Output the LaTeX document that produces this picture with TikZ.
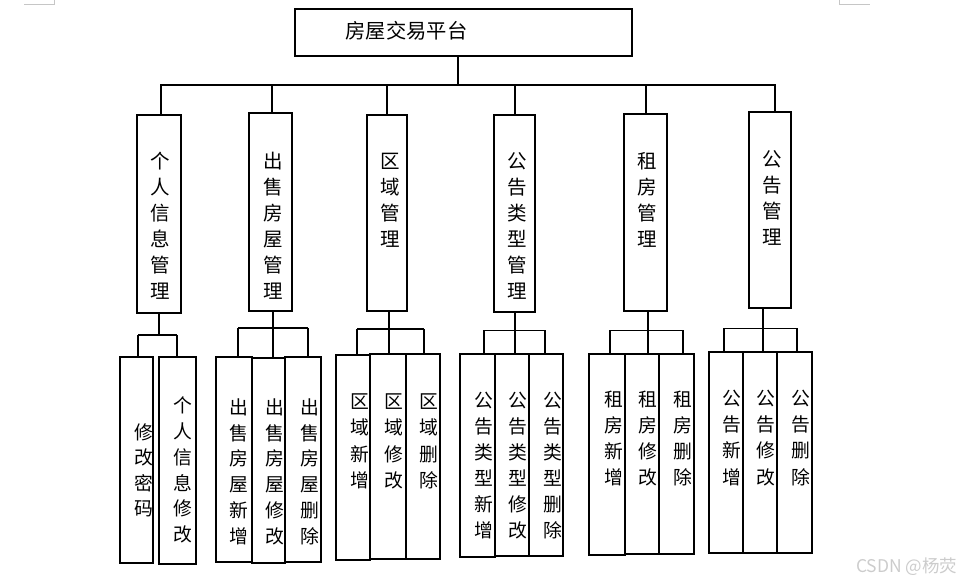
\documentclass[tikz,border=0pt]{standalone}
\usepackage{fontspec}
\setmainfont{Noto Sans CJK SC}
\newcommand\mybox[5]{\node[box,minimum width={#4pt-#2pt},minimum height={#5pt-#3pt}] (#1) at ({(#2+#4)/2},{(#3+#5)/2}) {};}
\begin{document}
\begin{tikzpicture}[x=1pt,y=-1pt,line width=1.1pt,
  box/.style={draw,inner sep=0pt,outer sep=0pt},
  lab2/.style={font=\fontsize{19.5}{26}\selectfont,align=center,anchor=north,inner sep=0pt},
  lab3/.style={font=\fontsize{18.8}{25.8}\selectfont,align=center,anchor=north,inner sep=0pt}]
\useasboundingbox (0,0) rectangle (962,585);
% page corner marks
\draw[gray!45,line width=0.6pt] (24,4.7) -- (54,4.7) -- (54,0);
\draw[gray!45,line width=0.6pt] (839,0) -- (839,4.7) -- (870,4.7);
% root
\mybox{root}{295}{9}{632}{56}
\node[font=\fontsize{20.3}{24}\selectfont,anchor=west,inner sep=0pt] (roott) at (345,31) {房屋交易平台};
% level 2
\mybox{A}{137}{115}{181}{313}
\mybox{B}{249}{113}{292}{311}
\mybox{C}{367}{115}{407}{311}
\mybox{D}{494}{115}{535}{312}
\mybox{E}{624}{114}{667}{311}
\mybox{F}{749}{112}{791}{308}
\node[lab2] (At) at (160,150.3) {\rule{0pt}{0.88em}个\\人\\信\\息\\管\\理};
\node[lab2] (Bt) at (273,150.3) {\rule{0pt}{0.88em}出\\售\\房\\屋\\管\\理};
\node[lab2] (Ct) at (390.5,150.8) {\rule{0pt}{0.88em}区\\域\\管\\理};
\node[lab2] (Dt) at (517,150.3) {\rule{0pt}{0.88em}公\\告\\类\\型\\管\\理};
\node[lab2] (Et) at (647,150.3) {\rule{0pt}{0.88em}租\\房\\管\\理};
\node[lab2] (Ft) at (772.5,148.3) {\rule{0pt}{0.88em}公\\告\\管\\理};
% level 1 connectors
\coordinate (rbus) at (458,85);
\coordinate (busL) at (160,85);
\coordinate (busR) at (776,85);
\draw (rbus) -- (rbus |- root.south);
\draw (busL) -- (busR);
\coordinate (dA) at (161,85);
\coordinate (dB) at (272,85);
\coordinate (dC) at (387,85);
\coordinate (dD) at (515,85);
\coordinate (dE) at (646,85);
\coordinate (dF) at (775,85);
\foreach \n in {A,B,C,D,E,F}{\draw (d\n) -- (d\n |- \n.north);}
% level 3 boxes
\mybox{A1}{120}{357}{153}{563}
\mybox{A2}{159}{357}{196}{564}
\mybox{B1}{216}{357}{252}{562}
\mybox{B2}{252}{358}{285}{563}
\mybox{B3}{285}{357}{321}{562}
\mybox{C1}{336}{355}{370}{560}
\mybox{C2}{370}{354}{406}{559}
\mybox{C3}{406}{354}{440}{559}
\mybox{D1}{460}{354}{495}{557}
\mybox{D2}{495}{354}{529}{556}
\mybox{D3}{529}{354}{563}{556}
\mybox{E1}{589}{354}{625}{555}
\mybox{E2}{625}{354}{659}{554}
\mybox{E3}{659}{354}{694}{554}
\mybox{F1}{709}{352}{743}{553}
\mybox{F2}{743}{352}{777}{553}
\mybox{F3}{777}{352}{812}{553}
% level 3 texts
\node[lab3,font=\fontsize{18.8}{25.3}\selectfont] (A1t) at (143.5,422.6) {\rule{0pt}{0.88em}修\\改\\密\\码};
\node[lab3] (A2t) at (182.5,395.6) {\rule{0pt}{0.88em}个\\人\\信\\息\\修\\改};
\node[lab3] (B1t) at (238.5,397.3) {\rule{0pt}{0.88em}出\\售\\房\\屋\\新\\增};
\node[lab3] (B2t) at (275,397.3) {\rule{0pt}{0.88em}出\\售\\房\\屋\\修\\改};
\node[lab3] (B3t) at (310,397.3) {\rule{0pt}{0.88em}出\\售\\房\\屋\\删\\除};
\node[lab3,font=\fontsize{18.8}{26.3}\selectfont] (C1t) at (359.5,391.6) {\rule{0pt}{0.88em}区\\域\\新\\增};
\node[lab3,font=\fontsize{18.8}{26.3}\selectfont] (C2t) at (393.5,391.6) {\rule{0pt}{0.88em}区\\域\\修\\改};
\node[lab3,font=\fontsize{18.8}{26.3}\selectfont] (C3t) at (429,391.6) {\rule{0pt}{0.88em}区\\域\\删\\除};
\node[lab3,font=\fontsize{18.8}{26}\selectfont] (D1t) at (483.5,390.6) {\rule{0pt}{0.88em}公\\告\\类\\型\\新\\增};
\node[lab3,font=\fontsize{18.8}{26}\selectfont] (D2t) at (518.3,390.6) {\rule{0pt}{0.88em}公\\告\\类\\型\\修\\改};
\node[lab3,font=\fontsize{18.8}{26}\selectfont] (D3t) at (552.7,390.6) {\rule{0pt}{0.88em}公\\告\\类\\型\\删\\除};
\node[lab3] (E1t) at (613.5,389.8) {\rule{0pt}{0.88em}租\\房\\新\\增};
\node[lab3] (E2t) at (648,389.8) {\rule{0pt}{0.88em}租\\房\\修\\改};
\node[lab3] (E3t) at (682.5,389.8) {\rule{0pt}{0.88em}租\\房\\删\\除};
\node[lab3,font=\fontsize{18.8}{26.3}\selectfont] (F1t) at (731.7,388.3) {\rule{0pt}{0.88em}公\\告\\新\\增};
\node[lab3,font=\fontsize{18.8}{26.3}\selectfont] (F2t) at (766,388.3) {\rule{0pt}{0.88em}公\\告\\修\\改};
\node[lab3,font=\fontsize{18.8}{26.3}\selectfont] (F3t) at (800.7,388.3) {\rule{0pt}{0.88em}公\\告\\删\\除};
% level 2 -> 3 connectors
% group A
\coordinate (sA) at (159,335);
\coordinate (aL) at (138,335);
\coordinate (aR) at (177,335);
\draw (sA |- A.south) -- (sA);
\draw (aL) -- (aR);
\draw (aL) -- (aL |- A1.north);
\draw (aR) -- (aR |- A2.north);
% group B
\coordinate (sB) at (273,328);
\coordinate (bL) at (238,328);
\coordinate (bR) at (308,328);
\draw (sB |- B.south) -- (sB |- B2.north);
\draw (bL) -- (bR);
\draw (bL) -- (bL |- B1.north);
\draw (bR) -- (bR |- B3.north);
% group C
\coordinate (sC) at (389,329);
\coordinate (cL) at (357,329);
\coordinate (cR) at (424,329);
\draw (sC |- C.south) -- (sC |- C2.north);
\draw (cL) -- (cR);
\draw (cL) -- (cL |- C1.north);
\draw (cR) -- (cR |- C3.north);
% group D
\coordinate (sD) at (515,330.5);
\coordinate (eDL) at (484,330.5);
\coordinate (eDR) at (545,330.5);
\draw (sD |- D.south) -- (sD |- D2.north);
\draw (eDL) -- (eDR);
\draw (eDL) -- (eDL |- D1.north);
\draw (eDR) -- (eDR |- D3.north);
% group E
\coordinate (sE) at (648,330.5);
\coordinate (eEL) at (610,330.5);
\coordinate (eER) at (683,330.5);
\draw (sE |- E.south) -- (sE |- E2.north);
\draw (eEL) -- (eER);
\draw (eEL) -- (eEL |- E1.north);
\draw (eER) -- (eER |- E3.north);
% group F
\coordinate (sF) at (763,328.5);
\coordinate (fL) at (724,328.5);
\coordinate (fR) at (797,328.5);
\draw (sF |- F.south) -- (sF |- F2.north);
\draw (fL) -- (fR);
\draw (fL) -- (fL |- F1.north);
\draw (fR) -- (fR |- F3.north);
% watermark
\node[font=\fontsize{17.5}{20}\selectfont,text=gray!40,anchor=east,inner sep=0pt] (wm) at (958,567) {CSDN @杨荧};
\end{tikzpicture}
\end{document}
